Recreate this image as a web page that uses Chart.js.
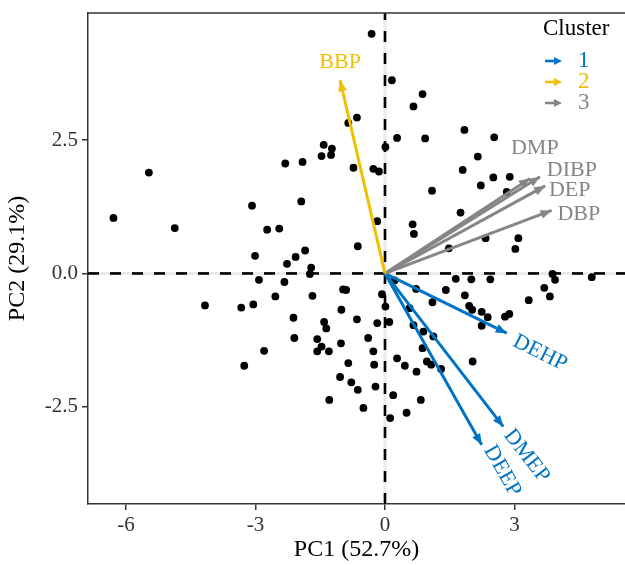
<!DOCTYPE html>
<html>
<head>
<meta charset="utf-8">
<script src="https://cdn.jsdelivr.net/npm/chart.js@4"></script>
<style>
  body { margin: 0; background: #fff; }
  #wrap { width: 625px; height: 565px; }
</style>
</head>
<body>
<div id="wrap"><canvas id="biplot" width="625" height="565"></canvas></div>
<script>
// sample scores (PC1, PC2)
const scoreX = [-6.29, -5.47, -4.87, -3.08, -2.73, -3.01, -2.92, -4.17, -3.33, -3.05, -3.26, -2.80,
  -0.31, 0.16, 0.87, 0.66, -0.65, -0.85, 0.28, 0.93, -1.42, -1.23, -1.47, -1.25, -1.91, -2.31,
  -0.73, -0.27, -0.14, 0.01, 1.84, 2.53, 2.15, 1.80, 2.51, 2.89, -1.94, -2.45, -0.18, 0.64, 0.67,
  1.09, -0.63, -1.85, -2.07, -2.27, -1.71, -1.74, -2.33, 0.22, -2.54, -1.68, -0.97, -0.90, -0.07,
  0.72, 1.10, 0.01, -1.01, -2.12, -1.41, -1.36, -0.65, -0.18, 0.10, 0.57, 0.66, 0.89, -2.10, -1.57,
  -0.39, 1.12, -1.47, -1.57, -1.30, -1.02, -0.27, -0.85, -0.25, -1.04, -0.78, -0.63, -0.22, -1.29,
  -0.50, 0.19, 0.12, 0.50, 0.83, 0.28, 0.46, 0.73, 0.87, 0.97, 1.07, 1.30, 2.03, 2.22, 2.82, 1.75,
  2.33, 3.09, 3.02, 1.48, 1.64, 2.00, 2.44, 3.88, 3.94, 4.79, 1.41, 1.85, 3.69, 3.82, 3.33, 1.95,
  2.02, 2.24, 2.38, 2.24, 2.78, 2.88];
const scoreY = [1.04, 1.89, 0.85, 1.27, 0.82, 0.33, -0.12, -0.60, -0.64, -0.58, -1.73, -1.45,
  4.49, 3.62, 3.36, 3.13, 2.92, 2.82, 2.54, 2.53, 2.41, 2.34, 2.20, 2.22, 2.09, 2.06,
  1.98, 1.96, 1.91, 2.37, 2.69, 2.55, 2.19, 1.94, 1.80, 1.81, 1.35, 0.84, 0.98, 0.92, 0.74,
  1.55, 0.51, 0.43, 0.31, 0.18, 0.11, -0.01, -0.16, -0.13, -0.43, -0.42, -0.30, -0.31, -0.39,
  -0.29, -0.54, -0.62, -0.68, -0.83, -0.91, -1.03, -0.86, -0.93, -0.91, -0.65, -0.97, -1.09, -1.21, -1.23,
  -1.21, -1.18, -1.37, -1.46, -1.46, -1.31, -1.46, -1.68, -1.71, -1.94, -2.04, -2.18, -2.12, -2.37,
  -2.52, -2.28, -2.71, -2.61, -2.37, -1.59, -1.73, -1.84, -1.40, -1.65, -1.71, -1.79, -1.65, 1.65, 1.53, 1.14,
  0.66, 0.66, 0.46, 0.47, -0.10, -0.11, -0.11, -0.01, -0.12, -0.07, -0.31, -0.41, -0.27, -0.43, -0.50, -0.61,
  -0.68, -0.72, -0.82, -0.98, -0.81, -0.76];

// variable loadings (arrow ends) and their clusters
const varNames = ["BBP", "DMP", "DIBP", "DEP", "DBP", "DEHP", "DMEP", "DEEP"];
const varCluster = [2, 3, 3, 3, 3, 1, 1, 1];
const loadX = [-1.04, 3.36, 3.59, 3.71, 3.86, 2.82, 2.74, 2.24];
const loadY = [3.62, 1.78, 1.81, 1.64, 1.18, -1.12, -2.87, -3.21];
const labelX = [-1.04, 3.47, 4.33, 4.28, 4.49, 3.59, 3.28, 2.72];
const labelY = [3.96, 2.35, 1.94, 1.56, 1.11, -1.49, -3.42, -3.70];
const labelRotate = [false, false, false, false, false, true, true, true];

const clusterNames = ["1", "2", "3"];
const clusterColors = ["#0073C2", "#EFC000", "#868686"];

const xTicks = [-6, -3, 0, 3];
const yTicks = [-2.5, 0, 2.5];

const serif = "'Liberation Serif', 'DejaVu Serif', serif";

const points = scoreX.map((x, i) => ({ x: x, y: scoreY[i] }));

const datasets = [{
  type: "scatter",
  data: points,
  backgroundColor: "#000",
  borderWidth: 0,
  pointRadius: 3.9,
  order: 2
}];
varNames.forEach((name, i) => {
  datasets.push({
    type: "line",
    label: name,
    data: [{ x: 0, y: 0 }, { x: loadX[i], y: loadY[i] }],
    borderColor: clusterColors[varCluster[i] - 1],
    borderWidth: 3,
    borderCapStyle: "butt",
    pointRadius: 0,
    fill: false,
    order: 1
  });
});

// zero lines under everything
const zeroLines = {
  id: "zeroLines",
  beforeDatasetsDraw(chart) {
    const { ctx, chartArea, scales } = chart;
    const x0 = scales.x.getPixelForValue(0);
    const y0 = scales.y.getPixelForValue(0);
    ctx.save();
    ctx.lineWidth = 3;
    ctx.strokeStyle = "#ebebeb";
    ctx.beginPath();
    ctx.moveTo(chartArea.left, y0); ctx.lineTo(chartArea.right, y0);
    ctx.moveTo(x0, chartArea.top); ctx.lineTo(x0, chartArea.bottom);
    ctx.stroke();
    ctx.strokeStyle = "#000";
    ctx.lineWidth = 2.6;
    ctx.setLineDash([11, 11]);
    ctx.beginPath();
    ctx.moveTo(chartArea.left, y0); ctx.lineTo(chartArea.right, y0);
    ctx.stroke();
    ctx.beginPath();
    ctx.moveTo(x0, chartArea.bottom); ctx.lineTo(x0, chartArea.top);
    ctx.stroke();
    ctx.restore();
  }
};

function arrowHead(ctx, x1, y1, x2, y2, len, half, color) {
  const a = Math.atan2(y2 - y1, x2 - x1);
  ctx.fillStyle = color;
  ctx.beginPath();
  ctx.moveTo(x2, y2);
  ctx.lineTo(x2 - len * Math.cos(a) + half * Math.sin(a), y2 - len * Math.sin(a) - half * Math.cos(a));
  ctx.lineTo(x2 - len * Math.cos(a) - half * Math.sin(a), y2 - len * Math.sin(a) + half * Math.cos(a));
  ctx.closePath();
  ctx.fill();
}

// arrow heads, variable labels, panel top line, legend
const biplotExtras = {
  id: "biplotExtras",
  afterDatasetsDraw(chart) {
    const { ctx, chartArea, scales } = chart;
    ctx.save();
    varNames.forEach((name, i) => {
      const meta = chart.getDatasetMeta(i + 1);
      const p0 = meta.data[0], p1 = meta.data[1];
      const col = clusterColors[varCluster[i] - 1];
      arrowHead(ctx, p0.x, p0.y, p1.x, p1.y, 11, 4.5, col);
      const lx = scales.x.getPixelForValue(labelX[i]);
      const ly = scales.y.getPixelForValue(labelY[i]);
      ctx.save();
      ctx.translate(lx, ly);
      if (labelRotate[i]) ctx.rotate(Math.atan2(p1.y - p0.y, p1.x - p0.x));
      ctx.fillStyle = col;
      ctx.font = "22px " + serif;
      ctx.textAlign = "center";
      ctx.textBaseline = "middle";
      ctx.fillText(name, 0, 0);
      ctx.restore();
    });

    // top border of the panel
    ctx.strokeStyle = "#333";
    ctx.lineWidth = 1.5;
    ctx.beginPath();
    ctx.moveTo(chartArea.left, chartArea.top);
    ctx.lineTo(chartArea.right, chartArea.top);
    ctx.stroke();

    // legend
    const lx = chartArea.right - 82;
    ctx.fillStyle = "#000";
    ctx.font = "23px " + serif;
    ctx.textAlign = "left";
    ctx.textBaseline = "middle";
    ctx.fillText("Cluster", lx, chartArea.top + 16);
    clusterNames.forEach((n, k) => {
      const y = chartArea.top + 48 + k * 21;
      const col = clusterColors[k];
      ctx.strokeStyle = col;
      ctx.lineWidth = 2.6;
      ctx.beginPath();
      ctx.moveTo(lx + 2, y);
      ctx.lineTo(lx + 13, y);
      ctx.stroke();
      arrowHead(ctx, lx + 2, y, lx + 19, y, 8, 4, col);
      ctx.fillStyle = col;
      ctx.font = "23px " + serif;
      ctx.fillText(n, lx + 35, y);
    });
    ctx.restore();
  }
};

new Chart(document.getElementById("biplot"), {
  type: "scatter",
  data: { datasets: datasets },
  options: {
    responsive: false,
    animation: false,
    layout: { autoPadding: false, padding: { top: 13, right: 0, bottom: 0, left: 0 } },
    plugins: { legend: { display: false }, tooltip: { enabled: false } },
    scales: {
      x: {
        type: "linear",
        min: -6.88,
        max: 5.56,
        afterBuildTicks: (scale) => { scale.ticks = xTicks.map(v => ({ value: v })); },
        afterFit: (scale) => { scale.height = 61; scale.paddingLeft = 0; scale.paddingRight = 0; },
        ticks: { font: { family: serif, size: 21 }, color: "#333", padding: 3,
          callback: (v) => String(v) },
        grid: { drawOnChartArea: false, tickLength: 6, color: "#333", lineWidth: 1.5 },
        border: { color: "#333", width: 1.5 },
        title: { display: true, text: "PC1 (52.7%)", font: { family: serif, size: 24 }, color: "#000",
          padding: { top: 0, bottom: 1 } }
      },
      y: {
        type: "linear",
        min: -4.32,
        max: 4.88,
        afterBuildTicks: (scale) => { scale.ticks = yTicks.map(v => ({ value: v })); },
        afterFit: (scale) => { scale.width = 88; scale.paddingTop = 0; scale.paddingBottom = 0; },
        ticks: { font: { family: serif, size: 21 }, color: "#333", padding: 4,
          callback: (v) => v.toFixed(1) },
        grid: { drawOnChartArea: false, tickLength: 6, color: "#333", lineWidth: 1.5 },
        border: { color: "#333", width: 1.5 },
        title: { display: true, text: "PC2 (29.1%)", font: { family: serif, size: 24 }, color: "#000",
          padding: { top: 3, bottom: 0 } }
      }
    }
  },
  plugins: [zeroLines, biplotExtras]
});
</script>
</body>
</html>
